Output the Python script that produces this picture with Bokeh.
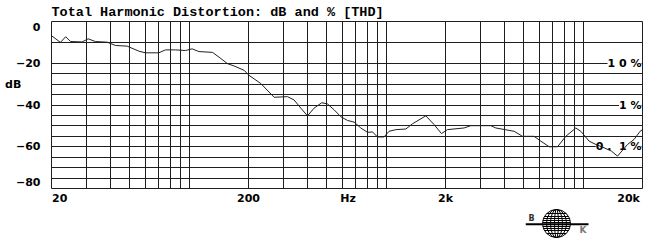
import numpy as np
from bokeh.plotting import figure
from bokeh.models import FixedTicker, Label, Range1d, Spacer, Title
from bokeh.layouts import column, row
from bokeh.embed import file_html
from bokeh.resources import INLINE

# ---------------- data ----------------
title_text = "Total Harmonic Distortion: dB and % [THD]"

freq_hz = [20, 22.2, 23.6, 25.0, 28.6, 30.7, 33.4, 38.3, 42.3, 48.4, 55.5, 60.0,
           70.1, 75.8, 85.2, 95.8, 103.5, 111.9, 131.3, 141.8, 156.5, 169.0,
           190.1, 200.6, 230.8, 269.8, 315.6, 340.8, 368.6, 398.6, 430.5, 471.0,
           503.6, 543.9, 588.1, 636.0, 687.1, 743.2, 803.8, 852.3, 903.4, 975.2,
           1034, 1119, 1258, 1360, 1589, 1751, 1908, 2047, 2486, 2688, 3396,
           3601, 4459, 4918, 5633, 6093, 6714, 7406, 8163, 9172, 9726, 10715,
           11590, 12765, 13918, 14931, 16787, 18124, 19440, 20000]
thd_db = [-6.8, -10.0, -7.3, -9.6, -9.8, -8.3, -9.6, -9.9, -11.5, -11.8, -14.2, -15.0,
          -15.0, -13.6, -13.6, -13.9, -13.1, -14.4, -14.8, -17.1, -20.2, -21.3,
          -23.4, -25.7, -29.7, -36.3, -36.0, -37.6, -41.5, -45.2, -41.5, -38.9,
          -39.5, -42.3, -45.6, -47.4, -48.2, -51.0, -53.1, -52.9, -55.3, -55.3,
          -52.6, -51.8, -51.5, -49.0, -45.2, -49.4, -53.7, -51.8, -51.0, -49.9, -49.9,
          -51.0, -52.6, -55.0, -55.0, -57.3, -60.0, -60.0, -55.0, -51.0, -52.6, -57.3,
          -58.9, -60.5, -62.1, -64.5, -58.9, -56.5, -52.6, -51.8]

x_grid_hz = [30, 40, 50, 60, 70, 80, 90, 100, 200, 300, 400, 500, 600, 700, 800, 900,
             1000, 2000, 3000, 4000, 5000, 6000, 7000, 8000, 9000, 10000]
y_grid_db = [-10, -20, -25, -30, -35, -40, -45, -50, -55, -60, -65, -70, -75]

x_tick_pos = [22, 200, 640, 2000, 17000]
x_tick_labels = ["20", "200", "Hz", "2k", "20k"]
NB = "\u00a0"
y_tick_pos = [-3, -20, -30, -40, -60, -77]
y_tick_labels = ["0", "\u221220", "dB" + NB * 5, "\u221240", "\u221260", "\u221280"]

pct_db = [-20, -40, -60]
pct_labels = ["1 0 %", "1 %", "0" + NB + "." + NB + NB + "1" + NB + "%"]

# ---------------- main plot ----------------
p = figure(width=645, height=207, x_axis_type="log",
           x_range=Range1d(20, 20000), y_range=Range1d(-80, 0),
           output_backend="svg", toolbar_location=None,
           min_border_left=51, min_border_right=3, min_border_top=21,
           min_border_bottom=17)
p.title = Title(text=title_text, align="left", text_font="Liberation Mono",
                text_font_style="bold", text_font_size="13.5px",
                text_color="black", standoff=3, offset=0)
p.background_fill_color = "white"
p.border_fill_color = "white"
p.outline_line_color = "#202020"
p.outline_line_width = 1

grid_col = "#1e1e1e"
p.xgrid.ticker = FixedTicker(ticks=x_grid_hz)
p.ygrid.ticker = FixedTicker(ticks=y_grid_db)
for g in (p.xgrid, p.ygrid):
    g.grid_line_color = grid_col
    g.grid_line_alpha = 1.0
    g.grid_line_width = 1
    g.minor_grid_line_color = None

ax = p.xaxis[0]
ax.ticker = FixedTicker(ticks=x_tick_pos)
ax.major_label_overrides = dict(zip(x_tick_pos, x_tick_labels))
ay = p.yaxis[0]
ay.ticker = FixedTicker(ticks=y_tick_pos)
ay.major_label_overrides = dict(zip(y_tick_pos, y_tick_labels))
for a in (ax, ay):
    a.axis_line_color = None
    a.major_tick_line_color = None
    a.minor_tick_line_color = None
    a.major_tick_in = 0
    a.major_tick_out = 0
    a.major_label_text_font = "DejaVu Sans"
    a.major_label_text_font_style = "bold"
    a.major_label_text_font_size = "11px"
    a.major_label_text_color = "black"
ax.major_label_standoff = 3
ay.major_label_standoff = 11

for db, txt in zip(pct_db, pct_labels):
    p.add_layout(Label(x=20000, y=db, text=txt, text_align="right",
                       text_baseline="middle", text_font="DejaVu Sans",
                       text_font_style="bold", text_font_size="11px",
                       text_color="black", background_fill_color="white",
                       x_offset=-1))

r = p.line(freq_hz, thd_db, line_color="#202020", line_width=1)
r.level = "overlay"

# ---------------- logo ----------------
logo = figure(width=72, height=34, x_range=Range1d(0, 72), y_range=Range1d(0, 34),
              output_backend="svg", toolbar_location=None,
              min_border=0, x_axis_location=None, y_axis_location=None)
logo.grid.visible = False
logo.outline_line_color = None
logo.background_fill_color = "white"
logo.border_fill_color = "white"
cx, cy, rad = 31, 18, 14
merid_w = [28, 20, 12, 4]
logo.ellipse(x=[cx] * len(merid_w), y=[cy] * len(merid_w), width=merid_w,
             height=[28] * len(merid_w), fill_color=None, line_color="black",
             line_width=1)
par_off = np.array([-10, -7, -5, -3, -1, 1, 3, 5, 7, 10])
half = rad * np.sqrt(1 - (par_off / rad) ** 2)
logo.segment(x0=cx - half, y0=cy + par_off, x1=cx + half, y1=cy + par_off,
             line_color="black", line_width=1)
logo.segment(x0=[0], y0=[17.3], x1=[63], y1=[17.3], line_color="black", line_width=2)
logo.add_layout(Label(x=3, y=19, text="B", text_font="DejaVu Sans",
                      text_font_size="8px", text_font_style="bold",
                      text_baseline="bottom", text_color="#333333"))
logo.add_layout(Label(x=54, y=7, text="K", text_font="DejaVu Sans",
                      text_font_size="9px", text_font_style="bold",
                      text_baseline="bottom", text_color="#777777"))

layout = column(p, row(Spacer(width=525, height=34), logo))
open("out.html", "w").write(file_html(layout, INLINE))
